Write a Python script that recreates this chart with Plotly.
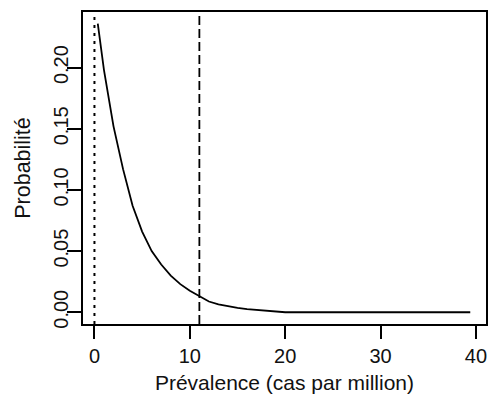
import plotly.graph_objects as go

# Data
prevalence = [0.35, 1, 2, 3, 4, 5, 6, 7, 8, 9, 10, 11, 12, 13, 14, 15, 16, 17, 18, 19, 20, 25, 30, 35, 39.4]
probabilite = [0.236, 0.198, 0.152, 0.117, 0.087, 0.066, 0.050, 0.039, 0.030, 0.023, 0.0175, 0.0128,
               0.0088, 0.0065, 0.0048, 0.0035, 0.0025, 0.0018, 0.0012, 0.0003, 0.0, 0.0, 0.0, 0.0, 0.0]
dotted_x = 0.0
dashed_x = 11.0
x_ticks = [0, 10, 20, 30, 40]
y_ticks = [0.00, 0.05, 0.10, 0.15, 0.20]
y_tick_labels = ["0.00", "0.05", "0.10", "0.15", "0.20"]

FONT = "Liberation Sans, Arial, sans-serif"

fig = go.Figure()
fig.add_trace(go.Scatter(x=prevalence, y=probabilite, mode="lines",
                         line=dict(color="black", width=1.8), showlegend=False))
fig.add_vline(x=dotted_x, line=dict(color="black", width=2, dash="3px,5px"))
fig.add_vline(x=dashed_x, line=dict(color="black", width=1.8, dash="9px,4px"))

fig.update_layout(
    width=491, height=405,
    margin=dict(l=83, r=3, t=12, b=81),
    paper_bgcolor="white", plot_bgcolor="white",
    font=dict(family=FONT, size=20, color="#111"),
)
fig.update_xaxes(
    range=[-1.2, 41.05], tickvals=x_ticks, ticks="outside", ticklen=13, tickwidth=1.5,
    tickcolor="black", showline=True, linecolor="black", linewidth=1.5, mirror=True,
    showgrid=False, zeroline=False,
    title=dict(text="Prévalence (cas par million)", standoff=10, font=dict(size=21)),
)
fig.update_yaxes(
    range=[-0.0096, 0.2455], tickvals=y_ticks, ticktext=y_tick_labels, tickangle=-90,
    ticks="outside", ticklen=14, tickwidth=1.5, tickcolor="black", ticklabelstandoff=-9,
    showline=True, linecolor="black", linewidth=1.5, mirror=True,
    showgrid=False, zeroline=False,
    title=dict(text="Probabilité", standoff=14, font=dict(size=21.5)),
)
fig.write_html("out.html")
